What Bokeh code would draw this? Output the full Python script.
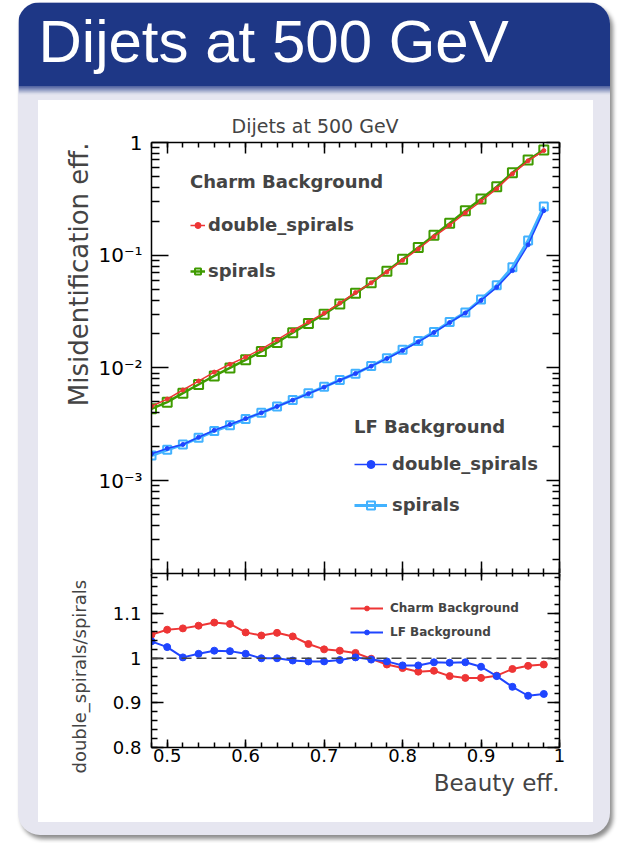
from bokeh.plotting import figure
from bokeh.layouts import column
from bokeh.models import (Range1d, FixedTicker, SingleIntervalTicker, LinearAxis, LogAxis,
                          CustomJSTickFormatter, Legend, LegendItem, Title, Span)
from bokeh.core.properties import value
from bokeh.embed import file_html
from bokeh.resources import INLINE

# ---------------- data ----------------
SLIDE_TITLE = "Dijets at 500 GeV"
PLOT_TITLE = "Dijets at 500 GeV"
Y_TOP_LABEL = "Misidentification eff."
Y_BOT_LABEL = "double_spirals/spirals"
X_LABEL = "Beauty eff."
CHARM_TITLE = "Charm Background"
LF_TITLE = "LF Background"
SERIES_NAMES = ["double_spirals", "spirals"]
RATIO_NAMES = ["Charm Background", "LF Background"]

beauty_eff = [0.48, 0.50, 0.52, 0.54, 0.56, 0.58, 0.60, 0.62, 0.64, 0.66, 0.68, 0.70, 0.72,
              0.74, 0.76, 0.78, 0.80, 0.82, 0.84, 0.86, 0.88, 0.90, 0.92, 0.94, 0.96, 0.98]

charm_spirals = [0.00434, 0.00497, 0.00597, 0.00713, 0.0085, 0.0100, 0.0118, 0.0140, 0.0168,
                 0.0205, 0.0248, 0.0300, 0.0370, 0.0460, 0.0570, 0.0720, 0.0920, 0.117,
                 0.150, 0.192, 0.248, 0.315, 0.405, 0.540, 0.700, 0.860]
charm_double = [0.00457, 0.00529, 0.00637, 0.00765, 0.00918, 0.01077, 0.01248, 0.01471,
                0.01776, 0.02150, 0.02559, 0.0306, 0.0376, 0.0466, 0.0569, 0.0710, 0.0900,
                0.1135, 0.1458, 0.1843, 0.2371, 0.3011, 0.3892, 0.527, 0.688, 0.848]
lf_spirals = [0.00167, 0.00188, 0.00209, 0.00240, 0.00275, 0.00310, 0.00352, 0.00400,
              0.00455, 0.00520, 0.00595, 0.00680, 0.00780, 0.00890, 0.0104, 0.0122, 0.0145,
              0.0173, 0.0208, 0.0255, 0.0310, 0.0405, 0.0540, 0.0780, 0.135, 0.270]
lf_double = [0.001733, 0.001927, 0.002094, 0.002424, 0.002797, 0.00315, 0.003555, 0.0040,
             0.00455, 0.005174, 0.005908, 0.006752, 0.007769, 0.008918, 0.01037, 0.01211,
             0.01427, 0.01702, 0.02061, 0.02525, 0.03072, 0.03973, 0.05184, 0.07301,
             0.1237, 0.2484]
ratio_charm = [1.053, 1.064, 1.067, 1.073, 1.080, 1.077, 1.058, 1.051, 1.057, 1.049, 1.032,
               1.020, 1.017, 1.012, 0.999, 0.986, 0.978, 0.970, 0.972, 0.960, 0.956, 0.956,
               0.961, 0.976, 0.983, 0.986]
ratio_lf = [1.038, 1.025, 1.002, 1.010, 1.017, 1.016, 1.010, 1.000, 1.000, 0.995, 0.993,
            0.993, 0.996, 1.002, 0.997, 0.993, 0.984, 0.984, 0.991, 0.990, 0.991, 0.981,
            0.960, 0.936, 0.916, 0.920]
ratio_reference = 1.0

y_log_major = [1e-3, 1e-2, 1e-1, 1.0]
y_log_minor = [m * d for d in [1e-4, 1e-3, 1e-2, 1e-1] for m in range(2, 10)]

# ---------------- style ----------------
FONT = "DejaVu Sans"
BLUE_BANNER = "#1E3786"
LAVENDER = "#E6E6F0"
RED = "#EE3535"
GREEN = "#3F9B00"
BLUE = "#1F45FF"
LIGHTBLUE = "#42B2FF"


def style_axis(ax, major_in, minor_in, labels=True, font_size="20px", standoff=9):
    ax.major_tick_in = major_in
    ax.major_tick_out = 0
    ax.minor_tick_in = minor_in
    ax.minor_tick_out = 0
    ax.axis_line_color = "black"
    ax.axis_line_width = 1.5
    ax.major_tick_line_color = "black"
    ax.minor_tick_line_color = "black"
    ax.major_tick_line_width = 1.5
    ax.minor_tick_line_width = 1.5
    ax.major_label_text_font = FONT
    ax.major_label_text_color = "black"
    if labels:
        ax.major_label_text_font_size = font_size
        ax.major_label_standoff = standoff
    else:
        ax.major_label_text_font_size = "0px"
        ax.major_label_standoff = 0
        ax.formatter = CustomJSTickFormatter(code="return '';")


# ---------------- banner ----------------
banner = figure(width=592, height=98, output_backend="svg", toolbar_location=None,
                x_range=Range1d(0, 592), y_range=Range1d(98, 0),
                x_axis_type=None, y_axis_type=None, min_border=0)
banner.outline_line_color = None
banner.background_fill_color = LAVENDER
banner.border_fill_color = LAVENDER
banner.grid.visible = False
banner.quad(left=[0], right=[592], top=[0], bottom=[84], fill_color=BLUE_BANNER, line_color=None)
c0 = (30, 55, 134)
c1 = (230, 230, 240)
nsteps = 8
for i in range(nsteps):
    t = (i + 0.5) / nsteps
    col = "#%02x%02x%02x" % tuple(int(a + (b - a) * t) for a, b in zip(c0, c1))
    banner.quad(left=[0], right=[592], top=[84 + i], bottom=[85 + i], fill_color=col, line_color=None)
banner.text(x=[20], y=[39], text=[SLIDE_TITLE], text_font=value("Liberation Sans"),
            text_font_size="60px", text_color="white", text_baseline="alphabetic")

# ---------------- top panel ----------------
top = figure(width=555, height=473, output_backend="svg", toolbar_location=None,
             x_range=Range1d(0.48, 1.0), y_range=Range1d(1.5e-4, 1.0), y_axis_type="log",
             min_border_left=113, min_border_right=34, min_border_top=42, min_border_bottom=0)
top.grid.visible = False
top.outline_line_color = None
top.background_fill_color = "white"
top.border_fill_color = "white"

y_ticker = FixedTicker(ticks=y_log_major, minor_ticks=y_log_minor)
log_fmt = CustomJSTickFormatter(code="""
const e = Math.round(Math.log10(tick));
if (e === 0) return "1";
const sup = {"-": "\u207B", "0": "\u2070", "1": "\u00B9", "2": "\u00B2", "3": "\u00B3", "4": "\u2074"};
return "10" + String(e).split("").map(c => sup[c]).join("");
""")

top.xaxis.ticker = SingleIntervalTicker(interval=0.1, num_minor_ticks=5)
top.yaxis.ticker = y_ticker
top.yaxis.formatter = log_fmt
style_axis(top.xaxis[0], 12, 5, labels=False)
style_axis(top.yaxis[0], 17, 8, labels=True, font_size="20px", standoff=9)

ax_top = LinearAxis(ticker=SingleIntervalTicker(interval=0.1, num_minor_ticks=5))
style_axis(ax_top, 11, 5, labels=False)
top.add_layout(ax_top, "above")
ax_right = LogAxis(ticker=FixedTicker(ticks=y_log_major, minor_ticks=y_log_minor))
style_axis(ax_right, 13, 7, labels=False)
top.add_layout(ax_right, "right")

top.title.text = PLOT_TITLE
top.title.align = "left"
top.title.offset = 80
top.title.text_font = FONT
top.title.text_font_size = "19px"
top.title.text_font_style = "normal"
top.title.standoff = 11

top.add_layout(Title(text=Y_TOP_LABEL, align="right", text_font=FONT, text_font_size="26px",
                     text_font_style="normal", standoff=4), "left")

g_line = top.line(beauty_eff, charm_spirals, line_color=GREEN, line_width=2.5)
g_pts = top.scatter(beauty_eff, charm_spirals, marker="square", size=9, line_color=GREEN,
                    line_width=2, fill_alpha=0)
r_line = top.line(beauty_eff, charm_double, line_color=RED, line_width=1.5)
r_pts = top.scatter(beauty_eff, charm_double, marker="circle", size=4, color=RED)

lb_line = top.line(beauty_eff, lf_spirals, line_color=LIGHTBLUE, line_width=3)
lb_pts = top.scatter(beauty_eff, lf_spirals, marker="square", size=8, line_color=LIGHTBLUE,
                     line_width=2, fill_alpha=0)
b_line = top.line(beauty_eff, lf_double, line_color=BLUE, line_width=1.5)
b_pts = top.scatter(beauty_eff, lf_double, marker="circle", size=4, color=BLUE)


def make_legend(items, title, location, glyph_width, spacing, title_standoff, label_standoff,
                font_size="18px", item_h=20):
    leg = Legend(items=items, location=location, orientation="vertical")
    if title:
        leg.title = title
        leg.title_text_font = FONT
        leg.title_text_font_size = font_size
        leg.title_text_font_style = "bold"
        leg.title_standoff = title_standoff
    leg.label_text_font = FONT
    leg.label_text_font_size = font_size
    leg.label_text_font_style = "bold"
    leg.glyph_width = glyph_width
    leg.glyph_height = item_h
    leg.label_height = item_h
    leg.label_standoff = label_standoff
    leg.spacing = spacing
    leg.padding = 0
    leg.margin = 0
    leg.border_line_alpha = 0
    leg.background_fill_alpha = 0
    return leg


charm_leg = make_legend([LegendItem(label=SERIES_NAMES[0], renderers=[r_line, r_pts]),
                         LegendItem(label=SERIES_NAMES[1], renderers=[g_line, g_pts])],
                        CHARM_TITLE, (39, 292), 15, 25, 22, 3)
lf_leg = make_legend([LegendItem(label=SERIES_NAMES[0], renderers=[b_line, b_pts]),
                      LegendItem(label=SERIES_NAMES[1], renderers=[lb_line, lb_pts])],
                     LF_TITLE, (203, 58), 33, 20, 16, 5)
top.add_layout(charm_leg)
top.add_layout(lf_leg)

# ---------------- ratio panel ----------------
bot = figure(width=555, height=249, output_backend="svg", toolbar_location=None,
             x_range=Range1d(0.48, 1.0), y_range=Range1d(0.8, 1.19),
             min_border_left=113, min_border_right=34, min_border_top=0, min_border_bottom=75)
bot.grid.visible = False
bot.outline_line_color = None
bot.background_fill_color = "white"
bot.border_fill_color = "white"

fmt_ratio = "return (Math.abs(tick-1)<1e-9) ? '1' : tick.toFixed(1);"
bot.xaxis.ticker = SingleIntervalTicker(interval=0.1, num_minor_ticks=5)
bot.yaxis.ticker = SingleIntervalTicker(interval=0.1, num_minor_ticks=5)
bot.xaxis.formatter = CustomJSTickFormatter(code=fmt_ratio)
bot.yaxis.formatter = CustomJSTickFormatter(code=fmt_ratio)
style_axis(bot.xaxis[0], 8, 5, labels=True, font_size="18px", standoff=1)
style_axis(bot.yaxis[0], 12, 6, labels=True, font_size="18px", standoff=10)

bax_top = LinearAxis(ticker=SingleIntervalTicker(interval=0.1, num_minor_ticks=5))
style_axis(bax_top, 7, 3, labels=False)
bot.add_layout(bax_top, "above")
bax_right = LinearAxis(ticker=SingleIntervalTicker(interval=0.1, num_minor_ticks=5))
style_axis(bax_right, 12, 5, labels=False)
bot.add_layout(bax_right, "right")

bot.add_layout(Title(text=Y_BOT_LABEL, align="left", offset=-26, text_font=FONT,
                     text_font_size="18px", text_font_style="normal", standoff=40), "left")
bot.add_layout(Title(text=X_LABEL, align="right", text_font=FONT, text_font_size="23px",
                     text_font_style="normal", standoff=6), "below")

bot.add_layout(Span(location=ratio_reference, dimension="width", line_color="#444444",
                    line_width=1.5, line_dash="10 5"))

rc_line = bot.line(beauty_eff, ratio_charm, line_color=RED, line_width=2)
rc_pts = bot.scatter(beauty_eff, ratio_charm, marker="circle", size=7, color=RED)
rl_line = bot.line(beauty_eff, ratio_lf, line_color=BLUE, line_width=2)
rl_pts = bot.scatter(beauty_eff, ratio_lf, marker="circle", size=7, color=BLUE)

ratio_leg = make_legend([LegendItem(label=RATIO_NAMES[0], renderers=[rc_line, rc_pts]),
                         LegendItem(label=RATIO_NAMES[1], renderers=[rl_line, rl_pts])],
                        None, (199, 108), 33, 10, 0, 7, font_size="12px", item_h=12)
bot.add_layout(ratio_leg)

inner = column(top, bot, margin=(0, 17, 13, 20), spacing=0,
               styles={"background-color": "white"})
block = column(banner, inner, margin=(2, 9, 8, 18), spacing=0,
               styles={"background-color": LAVENDER, "border-radius": "22px",
                       "overflow": "hidden", "box-shadow": "3px 4px 4px rgba(0,0,0,0.45)"})

open("out.html", "w").write(file_html(block, INLINE))
